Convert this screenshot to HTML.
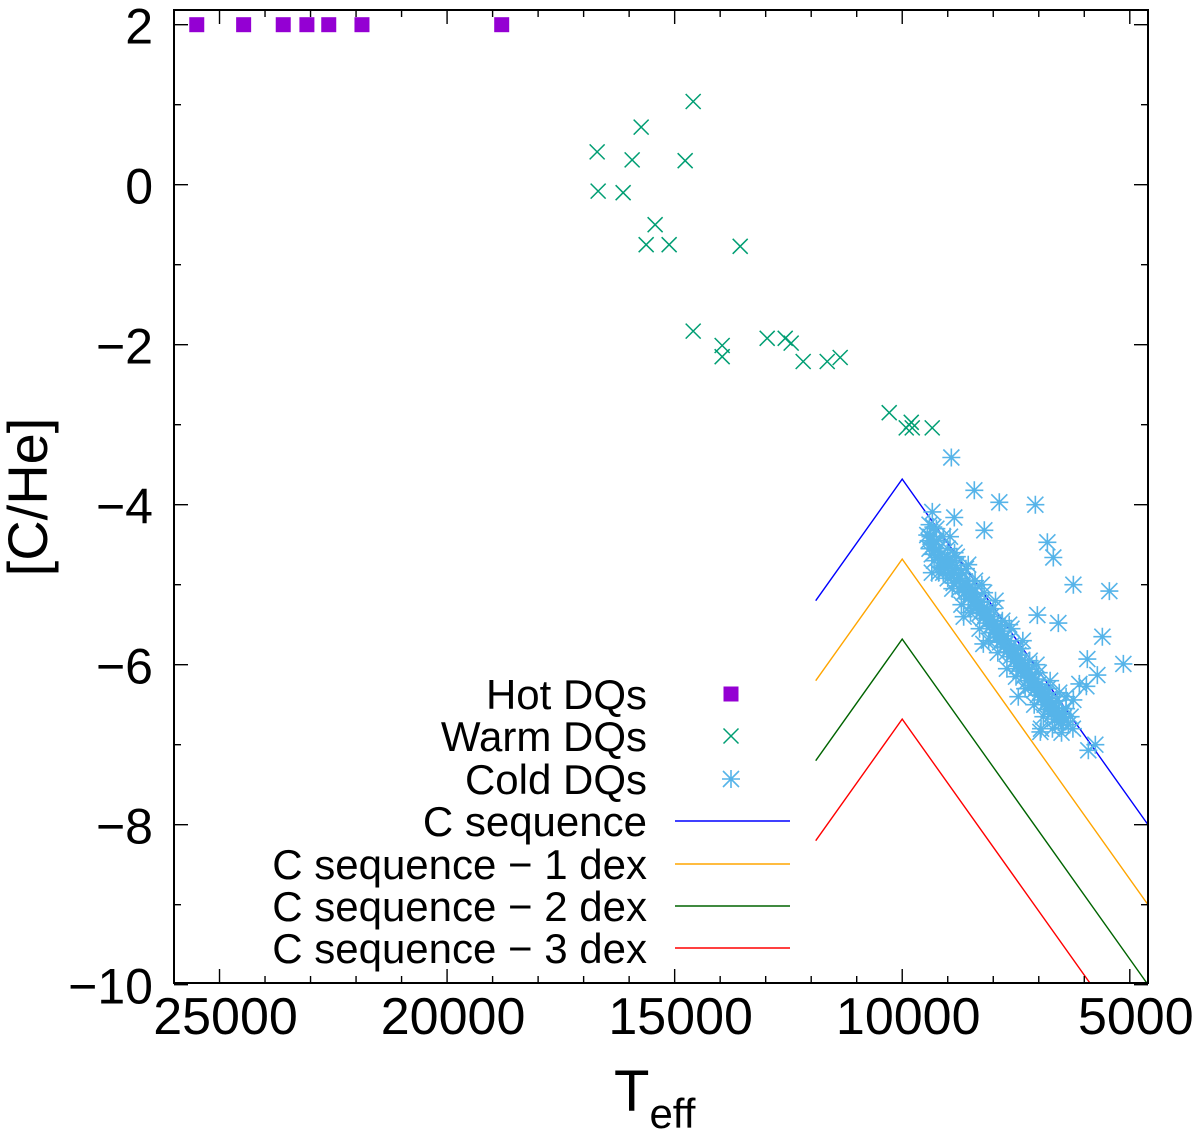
<!DOCTYPE html>
<html><head><meta charset="utf-8"><title>[C/He] vs Teff</title>
<style>
html,body{margin:0;padding:0;background:#fff;}
svg{display:block;font-family:"Liberation Sans",Arial,sans-serif;}
</style></head>
<body>
<svg id="chart" width="1200" height="1130" viewBox="0 0 1200 1130" xmlns="http://www.w3.org/2000/svg">
<defs><clipPath id="plotclip"><rect x="174" y="10" width="974" height="973"/></clipPath></defs>
<g id="marks"></g>
<g id="axes"></g>
<g id="legend"></g>
<text transform="translate(47,497) rotate(-90)" text-anchor="middle" font-size="56">[C/He]</text>
<text x="614" y="1111" font-size="58">T<tspan font-size="42" dy="17">eff</tspan></text>
</svg>
<script>
// ---- data ----
const hotT = [25500, 24470, 23600, 23080, 22600, 21870, 18800];
const hotC = [2, 2, 2, 2, 2, 2, 2];
const warmT = [14593, 15736, 16703, 15934, 14769, 16681, 16132, 15429, 15626, 15121, 13560, 14593, 13956, 13956, 12967, 12571, 12440, 12176, 11648, 11363, 10286, 9912, 9802, 9780, 9341];
const warmC = [1.04, 0.72, 0.41, 0.31, 0.30, -0.08, -0.10, -0.50, -0.75, -0.75, -0.77, -1.83, -2.01, -2.15, -1.92, -1.92, -1.98, -2.21, -2.21, -2.16, -2.85, -3.04, -2.97, -3.04, -3.04];
const coldT = [9450,9420,9400,9380,9350,9320,9300,9270,9250,9220,9200,9170,9150,9120,9100,9070,9050,9020,9000,8970,8950,8920,8900,8870,8850,8820,8800,8770,8750,8720,8700,8670,8650,8620,8600,8570,8550,8520,8500,8470,8450,8420,8400,8370,8350,8320,8300,8270,8250,8220,8200,8170,8150,8120,8100,8070,8050,8020,8000,7970,7950,7920,7900,7870,7850,7820,7800,7770,7750,7720,7700,7670,7650,7620,7600,7570,7550,7520,7500,7470,7450,7420,7400,7370,7350,7320,7300,7270,7250,7220,7200,7170,7150,7120,7100,7070,7050,7020,7000,6970,6950,6920,6900,6870,6850,6820,6800,6770,6750,6720,6700,6670,6650,6620,6600,6570,6550,6520,6500,6470,6450,
 8921,8416,7867,7075,9339,8856,8196,6811,6680,6240,5449,7031,6570,5603,5933,5141,8218,5713,6108,5954,6240,6965,5911,5757,9317,
 9400,9300,9200,9100,9000,8900,8800,8700,8600,8500,8400,8300,8200,8100,8000,7900,7800,7700,7600,7500,7400,7300,7200,7100,7000,6900,6800,6700,6600,6500,6400,6350,6300,6250,6400,6550,6750,7050,7350,7650,7950,8250,8550,8850,8950,9250,9350,8650,7450,6950];
const coldC = [-4.38,-4.45,-4.55,-4.40,-4.62,-4.50,-4.70,-4.58,-4.45,-4.66,-4.55,-4.78,-4.62,-4.70,-4.85,-4.68,-4.80,-4.72,-4.92,-4.78,-4.70,-4.88,-4.80,-4.98,-4.85,-4.76,-4.95,-4.88,-5.05,-4.92,-4.85,-5.02,-5.10,-4.96,-5.08,-5.00,-5.18,-5.05,-5.12,-5.25,-5.10,-5.20,-5.05,-5.30,-5.18,-5.26,-5.36,-5.22,-5.32,-5.42,-5.28,-5.38,-5.48,-5.34,-5.44,-5.52,-5.40,-5.50,-5.60,-5.46,-5.56,-5.66,-5.52,-5.62,-5.72,-5.58,-5.68,-5.78,-5.64,-5.74,-5.84,-5.70,-5.80,-5.90,-5.76,-5.86,-5.96,-5.82,-5.92,-6.02,-5.88,-5.98,-6.08,-5.94,-6.04,-6.14,-6.00,-6.10,-6.20,-6.06,-6.16,-6.26,-6.12,-6.22,-6.32,-6.18,-6.28,-6.38,-6.24,-6.34,-6.44,-6.30,-6.40,-6.50,-6.36,-6.46,-6.56,-6.42,-6.52,-6.62,-6.48,-6.58,-6.68,-6.54,-6.64,-6.72,-6.60,-6.70,-6.62,-6.72,-6.66,
 -3.41,-3.82,-3.97,-4.00,-4.09,-4.16,-4.32,-4.47,-4.66,-5.00,-5.08,-5.38,-5.48,-5.65,-5.93,-5.99,-5.74,-6.13,-6.24,-6.27,-6.44,-6.84,-7.07,-7.00,-4.28,
 -4.25,-4.45,-4.85,-4.40,-4.55,-5.05,-4.65,-5.25,-4.80,-5.35,-4.95,-5.55,-5.10,-5.70,-5.30,-5.85,-5.45,-6.05,-5.55,-6.15,-5.80,-6.30,-5.95,-6.50,-6.10,-6.65,-6.30,-6.80,-6.45,-6.85,-6.55,-6.75,-6.65,-6.80,-6.40,-6.35,-6.20,-6.00,-5.70,-5.50,-5.20,-5.00,-4.75,-4.60,-4.40,-4.30,-4.85,-5.40,-6.40,-6.80];
const seqT = [11900, 10000, 4000];
const seqC = [-5.20, -3.68, -8.48];
const seqOffsets = [0, -1, -2, -3];
const xTickLabels = [25000, 20000, 15000, 10000, 5000];
const yTickLabels = [2, 0, -2, -4, -6, -8, -10];

// ---- axes ----
const X0 = 174, X1 = 1148, TMAX = 26000, TMIN = 4600;
function xs(t){ return X0 + (TMAX - t) / (TMAX - TMIN) * (X1 - X0); }
function ys(v){ return 24.7 + (2 - v) * 80; }
const NS = "http://www.w3.org/2000/svg";
function mk(tag, attrs, parent){ const e = document.createElementNS(NS, tag); for (const k in attrs) e.setAttribute(k, attrs[k]); parent.appendChild(e); return e; }

const marks = document.getElementById('marks');
const axes = document.getElementById('axes');
const legend = document.getElementById('legend');
const clipG = mk('g', {'clip-path':'url(#plotclip)'}, marks);

const seqColors = ['#0000ff', '#ffa500', '#006400', '#ff0000'];
const seqNames = ['c-sequence-line', 'c-sequence-minus-1-line', 'c-sequence-minus-2-line', 'c-sequence-minus-3-line'];
seqOffsets.forEach((off, i) => {
  const pts = seqT.map((t, j) => xs(t).toFixed(1) + ',' + ys(seqC[j] + off).toFixed(1)).join(' ');
  const pl = mk('polyline', {points: pts, fill: 'none', stroke: seqColors[i], 'stroke-width': 1.4}, clipG);
  
  
});

function drawSquare(x, y, parent){ return mk('rect', {x: x-7.5, y: y-7.5, width: 15, height: 15, fill: '#9400d3'}, parent); }
function drawCross(x, y, parent){ return mk('path', {d: `M${x-7.5},${y-7.5}L${x+7.5},${y+7.5}M${x-7.5},${y+7.5}L${x+7.5},${y-7.5}`, stroke: '#009e73', 'stroke-width': 1.5, fill: 'none'}, parent); }
function drawStar(x, y, parent){ return mk('path', {d: `M${x-8},${y-8}L${x+8},${y+8}M${x-8},${y+8}L${x+8},${y-8}M${x-9},${y}L${x+9},${y}M${x},${y-9}L${x},${y+9}`, stroke: '#56b4e9', 'stroke-width': 1.6, fill: 'none'}, parent); }

coldT.forEach((t, i) => { const e = drawStar(xs(t), ys(coldC[i]), clipG);
  
   });
warmT.forEach((t, i) => { const e = drawCross(xs(t), ys(warmC[i]), clipG);
  
   });
hotT.forEach((t, i) => { const e = drawSquare(xs(t), ys(hotC[i]), clipG);
  
   });

const fr = mk('rect', {x: X0, y: 10, width: X1 - X0, height: 973, fill: 'none', stroke: '#000', 'stroke-width': 2}, axes);


for (let t = 25000; t >= 5000; t -= 1000) {
  const x = xs(t), len = (t % 5000 === 0) ? 14 : 7;
  mk('line', {x1: x, x2: x, y1: 983, y2: 983 - len, stroke: '#000', 'stroke-width': 1.4}, axes);
  mk('line', {x1: x, x2: x, y1: 10, y2: 10 + len, stroke: '#000', 'stroke-width': 1.4}, axes);
}
xTickLabels.forEach(t => { const e = mk('text', {x: xs(t) + 6, y: 1034, 'text-anchor': 'middle', 'font-size': 52}, axes);
  e.textContent = String(t);
  
   });
for (let v = 2; v >= -10; v -= 1) {
  const y = ys(v), len = (v % 2 === 0) ? 14 : 7;
  mk('line', {x1: X0, x2: X0 + len, y1: y, y2: y, stroke: '#000', 'stroke-width': 1.4}, axes);
  mk('line', {x1: X1, x2: X1 - len, y1: y, y2: y, stroke: '#000', 'stroke-width': 1.4}, axes);
}
yTickLabels.forEach(v => { const e = mk('text', {x: 153, y: ys(v) + 19, 'text-anchor': 'end', 'font-size': 50}, axes);
  e.textContent = v < 0 ? '\u2212' + Math.abs(v) : String(v);
  
   });

const legTexts = ['Hot DQs', 'Warm DQs', 'Cold DQs', 'C sequence', 'C sequence \u2212 1 dex', 'C sequence \u2212 2 dex', 'C sequence \u2212 3 dex'];
const legY = [694, 736, 779, 821, 864, 906, 948];
legTexts.forEach((s, i) => {
  const g = mk('g', {}, legend);
  
  
  const tx = mk('text', {x: 647, y: legY[i] + 15, 'text-anchor': 'end', 'font-size': 42}, g);
  tx.textContent = s;
  if (i === 0) drawSquare(731, legY[i], g);
  else if (i === 1) drawCross(731, legY[i], g);
  else if (i === 2) drawStar(731, legY[i], g);
  else mk('line', {x1: 675, x2: 790, y1: legY[i], y2: legY[i], stroke: seqColors[i - 3], 'stroke-width': 1.4}, g);
});
</script>
</body></html>
